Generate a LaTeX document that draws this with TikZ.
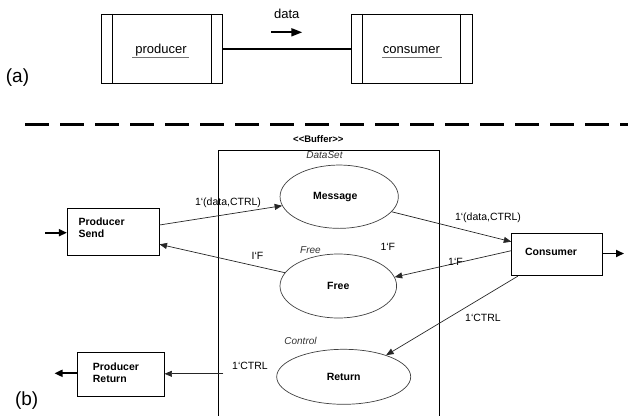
\documentclass[tikz,border=0pt]{standalone}
\usepackage{fontspec}
\setmainfont{Liberation Sans}
\usetikzlibrary{arrows.meta,shapes.geometric,calc}
\begin{document}
\begin{tikzpicture}[x=1pt,y=-1pt,
  unitbox/.style={draw,line width=1pt,minimum height=69pt,inner sep=0pt},
  sidebar/.style={line width=0.9pt},
  bigtext/.style={font=\fontsize{13}{15}\selectfont,inner sep=0pt},
  undl/.style={draw=black!55,line width=1pt},
  flow/.style={line width=2pt},
  procbox/.style={draw,line width=0.9pt,inner sep=0pt},
  place/.style={ellipse,draw=black!75,line width=0.7pt,inner sep=0pt,font=\fontsize{10.5}{12}\selectfont\bfseries},
  arc/.style={draw=black!85,line width=0.7pt,-{Triangle[length=7.5pt,width=6pt]}},
  io/.style={line width=1.8pt,-{Triangle[length=8pt,width=7pt]}},
  lbl/.style={font=\fontsize{10.5}{12}\selectfont,inner sep=0pt},
  blbl/.style={font=\fontsize{10.5}{11.6}\selectfont\bfseries,inner sep=0pt,align=left},
  ilbl/.style={font=\fontsize{10}{12}\selectfont\itshape,inner sep=0pt,text=black!80},
]
\useasboundingbox (0,0) rectangle (628,415);

% ---------- (a) producer / consumer units ----------
\node[unitbox,minimum width=121.7pt] (prod) at (161.85,48.8) {};
\draw[sidebar] ($(prod.north west)+(12.3,0)$) -- ($(prod.south west)+(12.3,0)$);
\draw[sidebar] ($(prod.north east)+(-12,0)$) -- ($(prod.south east)+(-12,0)$);
\node[bigtext,anchor=base] (prodtxt) at (161,53) {producer};
\draw[undl] ($(prodtxt.base west)+(-3,4.3)$) -- ($(prodtxt.base east)+(2,4.3)$);

\node[unitbox,minimum width=121.3pt] (cons) at (411.65,48.8) {};
\draw[sidebar] ($(cons.north west)+(11.7,0)$) -- ($(cons.south west)+(11.7,0)$);
\draw[sidebar] ($(cons.north east)+(-12,0)$) -- ($(cons.south east)+(-12,0)$);
\node[bigtext,anchor=base] (constxt) at (411.5,53) {consumer};
\draw[undl] ($(constxt.base west)+(-1,4.3)$) -- ($(constxt.base east)+(2,4.3)$);

\draw[flow] (prod.east) -- (cons.west);
\node[bigtext] (datatxt) at (286.7,14) {data};
\coordinate (dataA) at (271,32.3);
\coordinate (dataB) at (302.3,32.3);
\draw[line width=1.8pt,-{Triangle[length=11pt,width=8pt]}] (dataA) -- (dataB);

\node[font=\fontsize{19}{21}\selectfont,inner sep=0pt] (tagA) at (17.5,78) {(a)};

% ---------- separator ----------
\coordinate (sepL) at (25,124);
\coordinate (sepR) at (628,124);
\draw[line width=3pt,dash pattern=on 24pt off 11pt] (sepL) -- (sepR);

% ---------- (b) buffer ----------
\coordinate (bufBL) at (218.3,416);
\coordinate (bufTL) at (218.3,150);
\coordinate (bufTR) at (439.3,150);
\coordinate (bufBR) at (439.3,416);
\draw[line width=0.9pt] (bufBL) -- (bufTL) -- (bufTR) -- (bufBR);
\node[font=\fontsize{9.5}{11}\selectfont\bfseries,inner sep=0pt] (bufname) at (318.3,139) {<{}<Buffer>{}>};

\node[place,minimum width=118.3pt,minimum height=63.3pt] (msg) at (339.2,196.7) {\raisebox{2pt}{Message\hspace{8pt}}};
\node[place,minimum width=116.6pt,minimum height=64pt] (free) at (338.3,286) {Free};
\node[place,minimum width=134pt,minimum height=55pt] (ret) at (343.7,376.8) {Return};

\node[ilbl] (dsname) at (324.5,155.5) {DataSet};
\node[ilbl] (frname) at (310.5,250) {Free};
\node[ilbl] (ctname) at (300.5,340.7) {Control};
\node[lbl] (freemark) at (387.8,246.7) {1‘F};

% ---------- (b) transitions ----------
\node[procbox,minimum width=91.7pt,minimum height=46.7pt] (psend) at (113.2,231.7) {};
\node[blbl,anchor=north west] (psendtxt) at (78.3,217.6) {Producer\\Send};

\node[procbox,minimum width=91pt,minimum height=42.4pt] (cnsm) at (557.2,254.5) {};
\node[blbl] (cnsmtxt) at (551,252.3) {Consumer};

\node[procbox,minimum width=86.7pt,minimum height=44.4pt] (pret) at (120.65,374.5) {};
\node[blbl,anchor=north west] (prettxt) at (92.7,362.6) {Producer\\Return};

% ---------- (b) arcs ----------
\draw[arc] ($(psend.east)+(0,-6.7)$) -- (msg.189);
\node[lbl] (l1) at (228,202.7) {1‘(data,CTRL)};

\draw[arc] (free.166) -- ($(psend.east)+(0,12.6)$);
\node[lbl] (l2) at (257.5,255.7) {I‘F};

\draw[arc] (msg.344) -- ($(cnsm.west)+(0,-12.8)$);
\node[lbl] (l3) at (488,217.3) {1‘(data,CTRL)};

\draw[arc] ($(cnsm.west)+(0,-3.8)$) -- (free.9);
\node[lbl] (l4) at (455.5,261.5) {1‘F};

\draw[arc] ($(cnsm.south west)+(6.6,0)$) -- (ret.27);
\node[lbl] (l5) at (483,318.3) {1‘CTRL};

\coordinate (retport) at (223.3,373.8);
\draw[arc] (retport) -- (pret.east |- retport);
\node[lbl] (l6) at (250,365.5) {1‘CTRL};

% ---------- (b) environment ----------
\coordinate (inA) at (45,232.7);
\draw[io] (inA) -- (psend.west |- inA);
\coordinate (outC) at (624,253.5);
\draw[io] (cnsm.east |- outC) -- (outC);
\coordinate (outR) at (54.5,373.3);
\draw[io] (pret.west |- outR) -- (outR);

\node[font=\fontsize{19}{21}\selectfont,inner sep=0pt] (tagB) at (26.7,401) {(b)};
\end{tikzpicture}
\end{document}
